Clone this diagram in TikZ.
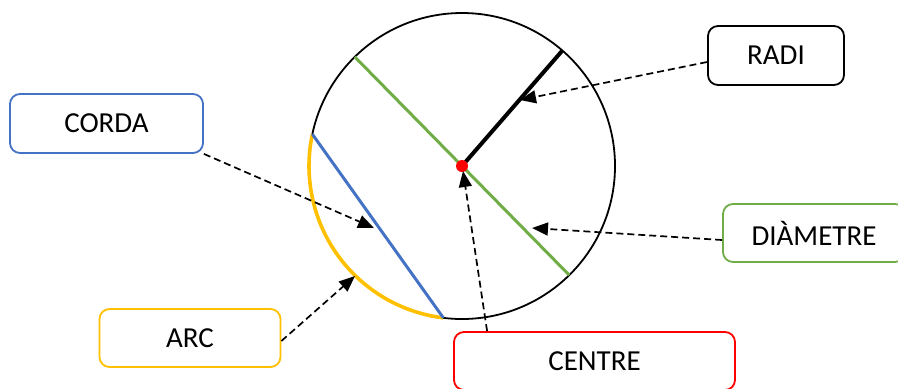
\documentclass[tikz,border=0pt]{standalone}
\usepackage{fontspec}
\setmainfont{Carlito}
\usetikzlibrary{
	positioning,
	arrows.meta,
	calc
}
\definecolor{cordablue}{HTML}{4472C4}
\definecolor{arcyellow}{HTML}{FFC000}
\definecolor{diamgreen}{HTML}{70AD47}

\begin{document}
\begin{tikzpicture}[
			x=0.5pt,y=0.5pt,
			namebox/.style={
				draw,
				rounded corners=5pt,
				fill=white,
				line width=0.9pt,
				minimum height=29.5pt,
				inner sep=0pt,
				font=\fontsize{14.5}{17}\selectfont
			},
			pointer/.style={-{Triangle[length=8pt,width=6.5pt]},line width=0.85pt,dash pattern=on 3.5pt off 2pt}
			]
			\useasboundingbox (0,0) rectangle (898,388);
			
			% circle and its parts
			\coordinate (O) at (462,222);
			\draw[line width=0.9pt] (O) circle[radius=153];
			\draw[arcyellow,line width=1.8pt] ($(O)+(168:153)$) arc[start angle=168,end angle=263,radius=153];
			\draw[cordablue,line width=1.5pt] ($(O)+(168:153)$) -- ($(O)+(263:153)$);
			\draw[diamgreen,line width=1.5pt] ($(O)+(134.5:153)$) -- ($(O)+(-45.5:153)$);
			\draw[line width=2pt] (O) -- ($(O)+(49:153)$);
			\fill[red] (O) circle[radius=6];
			
			% labels
			\node[namebox,draw=cordablue,minimum width=96.5pt] (corda) at (106.5,264.5)
			{CORDA};
			
			\node[namebox,draw=arcyellow,minimum width=90.5pt,minimum height=29pt] (arc) at (190,50)
			{ARC};
			
			\node[namebox,draw=red,minimum width=140.5pt,minimum height=29pt] (centre) at (594.5,27)
			{CENTRE};
			
			\node[namebox,minimum width=68pt] (radi) at (776,332.5)
			{RADI};
			
			\node[namebox,draw=diamgreen,minimum width=91pt,minimum height=29pt] (diam) at (814,155)
			{DIÀMETRE};
			
			% arrow tips
			\coordinate (cordatip) at (374,160);
			\coordinate (arctip) at (355,112);
			\coordinate (centretip) at (463,217);
			\coordinate (raditip) at (520,288);
			\coordinate (diamtip) at (532,160);
			
			\draw[pointer] (corda.south east)--(cordatip);
			\draw[pointer] ($(arc.east)+(0,-3)$)--(arctip);
			\draw[pointer] ($(centre.north west)+(34,0)$)--(centretip);
			\draw[pointer] ($(radi.west)+(0,-6.5)$)--(raditip);
			\draw[pointer] ($(diam.west)+(0,-7)$)--(diamtip);
			
		\end{tikzpicture}
\end{document}
